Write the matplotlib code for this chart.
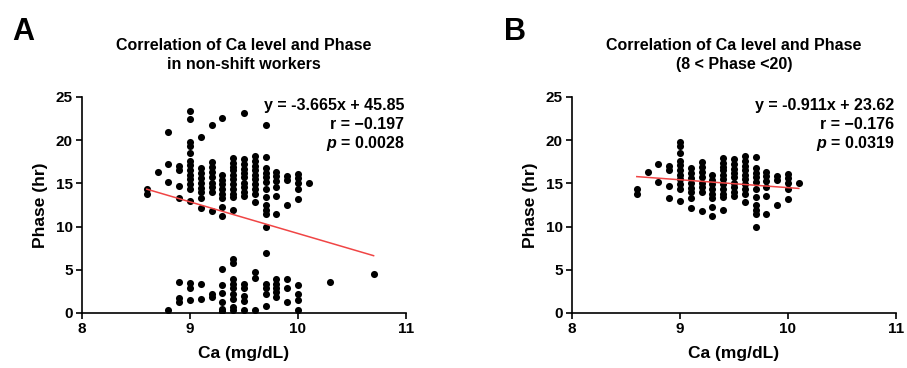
import matplotlib
matplotlib.use("Agg")
import matplotlib.pyplot as plt

plt.rcParams['font.family'] = ['Liberation Sans', 'DejaVu Sans']
plt.rcParams['font.weight'] = 'bold'
plt.rcParams['mathtext.fontset'] = 'custom'
plt.rcParams['mathtext.it'] = 'Liberation Sans:italic:bold'
plt.rcParams['mathtext.rm'] = 'Liberation Sans:bold'

# panel B points (8 < phase < 20), read column by column
ca_b = [8.6, 8.6,
        8.7,
        8.8, 8.8,
        8.9, 8.9, 8.9, 8.9,
        9.0, 9.0, 9.0, 9.0, 9.0, 9.0, 9.0, 9.0, 9.0, 9.0, 9.0,
        9.1, 9.1, 9.1, 9.1, 9.1, 9.1, 9.1, 9.1,
        9.2, 9.2, 9.2, 9.2, 9.2, 9.2, 9.2, 9.2,
        9.3, 9.3, 9.3, 9.3, 9.3, 9.3, 9.3, 9.3,
        9.4, 9.4, 9.4, 9.4, 9.4, 9.4, 9.4, 9.4, 9.4, 9.4, 9.4,
        9.5, 9.5, 9.5, 9.5, 9.5, 9.5, 9.5, 9.5, 9.5,
        9.6, 9.6, 9.6, 9.6, 9.6, 9.6, 9.6, 9.6, 9.6, 9.6,
        9.7, 9.7, 9.7, 9.7, 9.7, 9.7, 9.7, 9.7, 9.7, 9.7, 9.7,
        9.8, 9.8, 9.8, 9.8, 9.8, 9.8,
        9.9, 9.9, 9.9,
        10.0, 10.0, 10.0, 10.0, 10.0,
        10.1]
phase_b = [14.3, 13.8,
           16.3,
           17.2, 15.2,
           17.0, 16.5, 14.7, 13.3,
           19.8, 19.3, 18.5, 17.6, 17.1, 16.5, 16.0, 15.5, 14.9, 14.3, 13.0,
           16.8, 16.2, 15.6, 15.1, 14.5, 14.0, 13.3, 12.2,
           17.5, 16.9, 16.3, 15.7, 15.1, 14.6, 14.0, 11.8,
           16.0, 15.4, 14.9, 14.4, 13.8, 13.3, 12.3, 11.2,
           17.9, 17.4, 16.9, 16.5, 16.0, 15.5, 14.9, 14.3, 13.8, 13.4, 11.9,
           17.8, 17.2, 16.7, 16.2, 15.7, 15.1, 14.6, 14.0, 13.5,
           18.2, 17.6, 17.0, 16.5, 16.0, 15.5, 14.9, 14.4, 13.8, 12.9,
           18.1, 16.8, 16.2, 15.7, 15.2, 14.4, 13.4, 12.5, 11.9, 11.5, 10.0,
           16.3, 15.8, 15.3, 14.6, 13.5, 11.5,
           15.8, 15.4, 12.5,
           16.1, 15.6, 15.0, 14.3, 13.2,
           15.0]

# extra points that only appear in panel A (phase > 20 or < 8)
ca_a_extra = [8.8, 9.0, 9.0, 9.1, 9.2, 9.3, 9.5, 9.7,
              8.8,
              8.9, 8.9, 8.9,
              9.0, 9.0, 9.0,
              9.1, 9.1,
              9.2, 9.2,
              9.3, 9.3, 9.3, 9.3, 9.3, 9.3,
              9.4, 9.4, 9.4, 9.4, 9.4, 9.4, 9.4, 9.4, 9.4,
              9.5, 9.5, 9.5, 9.5, 9.5,
              9.6, 9.6, 9.6,
              9.7, 9.7, 9.7, 9.7, 9.7,
              9.8, 9.8, 9.8, 9.8, 9.8,
              9.9, 9.9, 9.9,
              10.0, 10.0, 10.0, 10.0,
              10.3, 10.7]
phase_a_extra = [20.9, 23.4, 22.4, 20.4, 21.8, 22.6, 23.1, 21.8,
                 0.4,
                 3.6, 1.7, 1.3,
                 3.5, 2.9, 1.5,
                 3.4, 1.6,
                 2.2, 1.9,
                 5.1, 3.2, 2.3, 1.3, 0.5, 0.2,
                 6.2, 5.8, 3.9, 3.4, 2.9, 2.2, 1.6, 0.7, 0.4,
                 3.4, 2.9, 2.0, 1.4, 0.4,
                 4.7, 4.0, 0.3,
                 7.0, 3.4, 2.9, 2.2, 0.8,
                 3.9, 3.4, 2.9, 2.4, 1.8,
                 3.9, 2.9, 1.3,
                 3.2, 2.2, 1.5, 0.3,
                 3.6, 4.5]

ca_a = ca_b + ca_a_extra
phase_a = phase_b + phase_a_extra

slope_a, intercept_a = -3.665, 45.85
slope_b, intercept_b = -0.911, 23.62
stats_a = ['y = -3.665x + 45.85', 'r = \u22120.197', '$p$ = 0.0028']
stats_b = ['y = -0.911x + 23.62', 'r = \u22120.176', '$p$ = 0.0319']
title_a = 'Correlation of Ca level and Phase\nin non-shift workers'
title_b = 'Correlation of Ca level and Phase\n(8 < Phase <20)'

W, H = 907, 368
fig = plt.figure(figsize=(W / 100, H / 100), dpi=100)


def panel(left_px, letter, letter_x, title, ca, phase, slope, intercept, stats):
    ax = fig.add_axes([left_px / W, 55 / H, 324 / W, 216 / H])
    ax.scatter(ca, phase, s=26, color='black', linewidths=0, zorder=3)
    x0, x1 = min(ca), max(ca)
    ax.plot([x0, x1], [slope * x0 + intercept, slope * x1 + intercept],
            color='#f04545', lw=1.1, zorder=4)
    ax.set_xlim(8, 11)
    ax.set_ylim(0, 25)
    ax.set_xticks([8, 9, 10, 11])
    ax.set_yticks([0, 5, 10, 15, 20, 25])
    for s in ['top', 'right']:
        ax.spines[s].set_visible(False)
    for s in ['left', 'bottom']:
        ax.spines[s].set_linewidth(1.2)
    ax.tick_params(width=1.2, length=4.5, labelsize=11, pad=2)
    ax.set_xlabel('Ca (mg/dL)', fontsize=12.5, fontweight='bold')
    ax.set_ylabel('Phase (hr)', fontsize=12.5, fontweight='bold')
    ax.xaxis.set_label_coords(0.5, -0.155)
    ax.yaxis.set_label_coords(-0.105, 0.5)
    for i, txt in enumerate(stats):
        ax.text(0.995, 0.962 - i * 0.089, txt, transform=ax.transAxes,
                ha='right', va='center', fontsize=11.5, fontweight='bold')
    cx = (left_px + 162) / W
    fig.text(cx, 1 - 55 / H, title, ha='center', va='center',
             fontsize=11.5, fontweight='bold', linespacing=1.32)
    fig.text(letter_x / W, 1 - 32 / H, letter, ha='left', va='center',
             fontsize=22, fontweight='bold')
    return ax


panel(82, 'A', 12, title_a, ca_a, phase_a, slope_a, intercept_a, stats_a)
panel(572, 'B', 504, title_b, ca_b, phase_b, slope_b, intercept_b, stats_b)

fig.savefig('out.png', dpi=100)
